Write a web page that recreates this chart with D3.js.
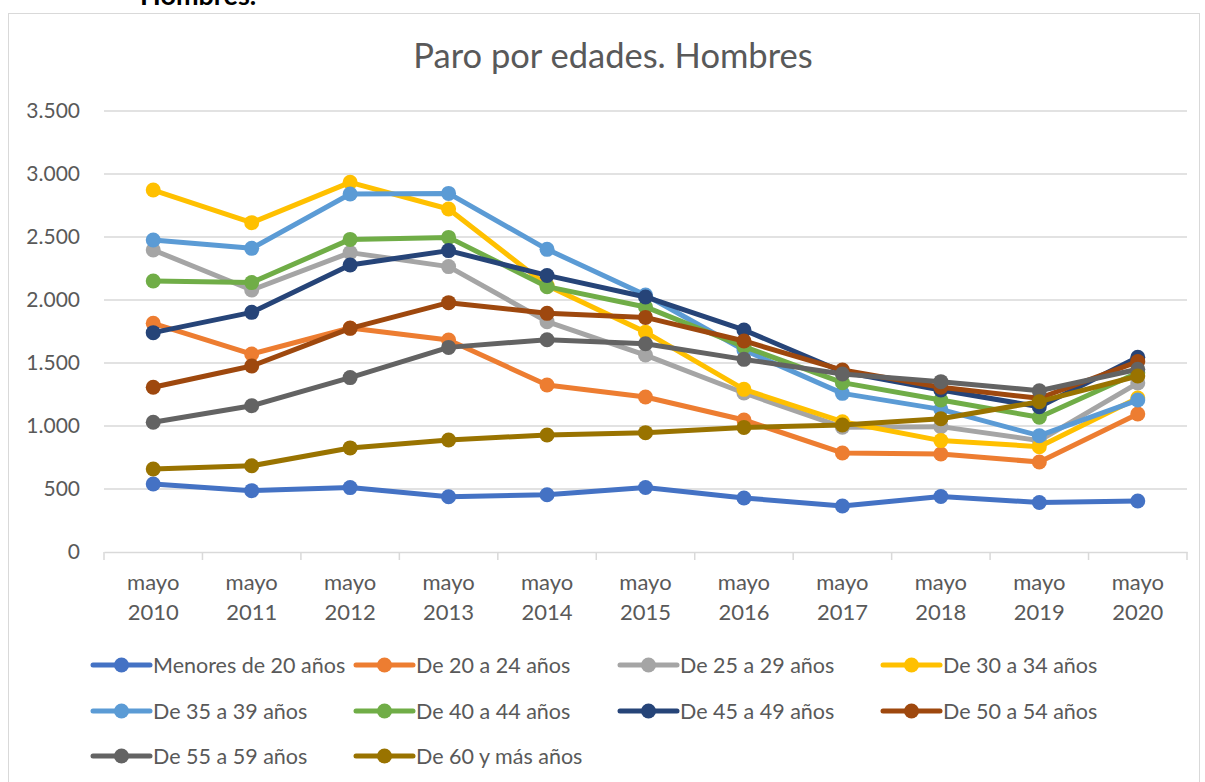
<!DOCTYPE html>
<html><head><meta charset="utf-8">
<script src="https://cdn.jsdelivr.net/npm/d3@7"></script>
<style>body{margin:0;background:#fff;} svg{display:block;font-family:Lato,"Open Sans",sans-serif;}</style>
</head><body>
<svg id="c" width="1205" height="782"></svg>
<script>
const categories = ["mayo 2010","mayo 2011","mayo 2012","mayo 2013","mayo 2014","mayo 2015","mayo 2016","mayo 2017","mayo 2018","mayo 2019","mayo 2020"];
const seriesNames = ["Menores de 20 años","De 20 a 24 años","De 25 a 29 años","De 30 a 34 años","De 35 a 39 años","De 40 a 44 años","De 45 a 49 años","De 50 a 54 años","De 55 a 59 años","De 60 y más años"];
const menores20 = [540, 487, 511, 438, 454, 512, 429, 365, 440, 393, 405];
const de20a24 = [1815, 1571, 1778, 1683, 1325, 1230, 1048, 786, 778, 714, 1095];
const de25a29 = [2397, 2079, 2376, 2265, 1828, 1563, 1262, 991, 995, 884, 1341];
const de30a34 = [2873, 2614, 2934, 2722, 2115, 1745, 1291, 1034, 884, 836, 1222];
const de35a39 = [2476, 2410, 2841, 2846, 2402, 2040, 1603, 1259, 1132, 923, 1206];
const de40a44 = [2151, 2138, 2481, 2497, 2106, 1945, 1630, 1344, 1206, 1069, 1423];
const de45a49 = [1741, 1902, 2278, 2392, 2195, 2024, 1762, 1431, 1286, 1153, 1545];
const de50a54 = [1307, 1476, 1775, 1979, 1894, 1862, 1675, 1444, 1307, 1220, 1511];
const de55a59 = [1030, 1161, 1384, 1624, 1685, 1653, 1529, 1413, 1352, 1280, 1450];
const de60mas = [659, 684, 826, 889, 929, 947, 989, 1008, 1058, 1193, 1397];
const yTicks = [0, 500, 1000, 1500, 2000, 2500, 3000, 3500];
const yTickLabels = ["0","500","1.000","1.500","2.000","2.500","3.000","3.500"];
const colors = ["#4472C4","#ED7D31","#A5A5A5","#FFC000","#5B9BD5","#70AD47","#264478","#9E480E","#636363","#997300"];
const allValues = [menores20, de20a24, de25a29, de30a34, de35a39, de40a44, de45a49, de50a54, de55a59, de60mas];

const svg = d3.select("#c");
const pLeft = 104, pRight = 1187, pTop = 111, pBottom = 552;

// frame
svg.append("rect").attr("x",8.5).attr("y",13.5).attr("width",1191).attr("height",800)
  .attr("fill","#fff").attr("stroke","#d9d9d9").attr("stroke-width",1);
svg.append("text").attr("x",140).attr("y",5).attr("font-size",27).attr("font-weight","bold")
  .attr("fill","#000").text("Hombres.");

svg.append("text").attr("x",613).attr("y",68).attr("text-anchor","middle")
  .attr("font-size",34.5).attr("fill","#595959").text("Paro por edades. Hombres");

const x = d3.scaleBand().domain(categories).range([pLeft,pRight]);
const y = d3.scaleLinear().domain([0,3500]).range([pBottom,pTop]);

// gridlines
svg.append("g").selectAll("line").data(yTicks.filter(d=>d>0)).join("line")
  .attr("x1",pLeft).attr("x2",pRight).attr("y1",d=>y(d)).attr("y2",d=>y(d))
  .attr("stroke","#d9d9d9").attr("stroke-width",1.5);

// y labels
svg.append("g").selectAll("text").data(yTicks).join("text")
  .attr("x",80).attr("y",d=>y(d)).attr("dy","0.35em").attr("text-anchor","end")
  .attr("font-size",21).attr("fill","#595959").text((d,i)=>yTickLabels[i]);

// x axis
const xAxis = d3.axisBottom(x).tickSize(0).tickFormat("");
const gx = svg.append("g").attr("transform",`translate(0,${pBottom})`).call(xAxis);
gx.select(".domain").attr("stroke","#d9d9d9").attr("stroke-width",1.5);
const bounds = categories.map(c=>x(c)).concat([pRight]);
svg.append("g").selectAll("line").data(bounds).join("line")
  .attr("x1",d=>d).attr("x2",d=>d).attr("y1",pBottom).attr("y2",pBottom+8)
  .attr("stroke","#d9d9d9").attr("stroke-width",1.5);
const xl = svg.append("g").selectAll("text").data(categories).join("text")
  .attr("x",d=>x(d)+x.bandwidth()/2).attr("text-anchor","middle")
  .attr("font-size",22).attr("fill","#595959");
xl.append("tspan").attr("x",d=>x(d)+x.bandwidth()/2).attr("y",590).text(d=>d.split(" ")[0]);
xl.append("tspan").attr("x",d=>x(d)+x.bandwidth()/2).attr("y",620).text(d=>d.split(" ")[1]);

// lines
const line = d3.line().x((d,i)=>x(categories[i])+x.bandwidth()/2).y(d=>y(d));
allValues.forEach((vals,si)=>{
  const g = svg.append("g");
  g.append("path").datum(vals).attr("d",line).attr("fill","none")
    .attr("stroke",colors[si]).attr("stroke-width",5).attr("stroke-linejoin","round").attr("stroke-linecap","round");
  g.selectAll("circle").data(vals).join("circle")
    .attr("cx",(d,i)=>x(categories[i])+x.bandwidth()/2).attr("cy",d=>y(d)).attr("r",7.5)
    .attr("fill",colors[si]);
});

// legend
const colX = [93, 356, 620, 883];
const rowY = [665, 711, 756];
seriesNames.forEach((name,i)=>{
  const cx = colX[i%4], cy = rowY[Math.floor(i/4)];
  const g = svg.append("g");
  g.append("line").attr("x1",cx).attr("x2",cx+57).attr("y1",cy).attr("y2",cy)
    .attr("stroke",colors[i]).attr("stroke-width",5).attr("stroke-linecap","round");
  g.append("circle").attr("cx",cx+28.5).attr("cy",cy).attr("r",7.5).attr("fill",colors[i]);
  g.append("text").attr("x",cx+60).attr("y",cy).attr("dy","0.35em")
    .attr("font-size",21.5).attr("fill","#595959").text(name);
});
</script>
</body></html>
